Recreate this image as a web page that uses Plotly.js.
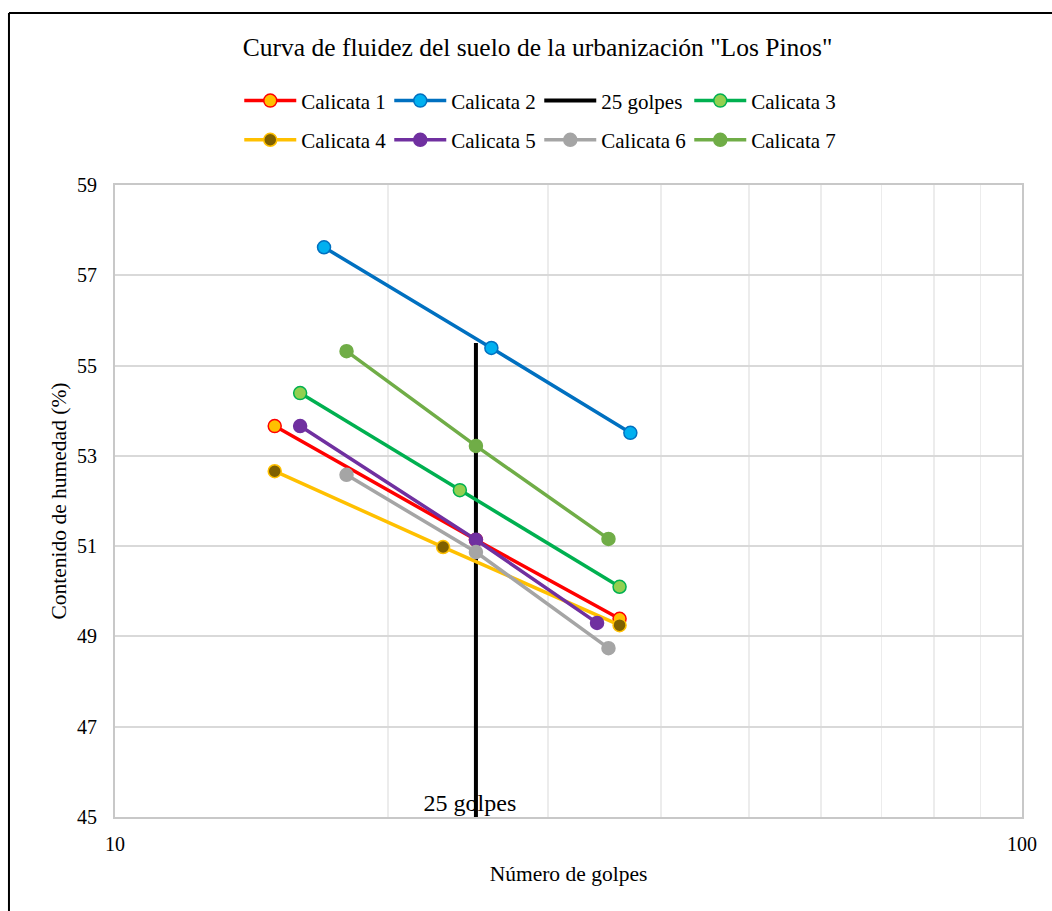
<!DOCTYPE html>
<html>
<head>
<meta charset="utf-8">
<script src="https://cdn.plot.ly/plotly-3.0.1.min.js"></script>
<style>
html,body{margin:0;padding:0;background:#fff;overflow:hidden;}
#chart{width:1052px;height:911px;}
</style>
</head>
<body>
<div id="chart"></div>
<script>
// Data
const golpes1 = [15, 25, 36];
const humedad1 = [53.66, 51.14, 49.39];
const golpes2 = [17, 26, 37];
const humedad2 = [57.62, 55.39, 53.51];
const golpes25X = [25, 25];
const golpes25Y = [45, 55.5];
const golpes3 = [16, 24, 36];
const humedad3 = [54.39, 52.24, 50.10];
const golpes4 = [15, 23, 36];
const humedad4 = [52.66, 50.98, 49.25];
const golpes5 = [16, 25, 34];
const humedad5 = [53.66, 51.14, 49.30];
const golpes6 = [18, 25, 35];
const humedad6 = [52.58, 50.87, 48.74];
const golpes7 = [18, 25, 35];
const humedad7 = [55.32, 53.22, 51.16];
const xTickVals = [10, 20, 30, 40, 50, 60, 70, 80, 90, 100];
const xTickText = ['10', '', '', '', '', '', '', '', '', '100'];
const annotationText = '25 golpes\u00a0\u00a0';

const FONT = 'Liberation Serif, Times New Roman, serif';

function series(name, x, y, lineColor, fillColor, legend) {
  return {
    type: 'scatter', mode: 'lines+markers', name: name, x: x, y: y,
    line: {color: lineColor, width: 3.5},
    marker: {size: 13, color: fillColor, line: {color: lineColor, width: 1.5}},
    legend: legend, cliponaxis: false
  };
}

const traces = [
  {type: 'scatter', mode: 'text', x: [golpes25X[0]], y: [golpes25Y[0]], text: [annotationText],
   textposition: 'top center', textfont: {family: FONT, size: 24, color: '#000'},
   showlegend: false, hoverinfo: 'skip', cliponaxis: false},
  series('Calicata 1', golpes1, humedad1, '#ff0000', '#ffc000', 'legend'),
  series('Calicata 2', golpes2, humedad2, '#0070c0', '#00b0f0', 'legend'),
  {type: 'scatter', mode: 'lines', name: '25 golpes', x: golpes25X, y: golpes25Y,
   line: {color: '#000000', width: 4}, legend: 'legend'},
  series('Calicata 3', golpes3, humedad3, '#00b050', '#92d050', 'legend'),
  series('Calicata 4', golpes4, humedad4, '#ffc000', '#7f6000', 'legend2'),
  series('Calicata 5', golpes5, humedad5, '#7030a0', '#7030a0', 'legend2'),
  series('Calicata 6', golpes6, humedad6, '#a5a5a5', '#a5a5a5', 'legend2'),
  series('Calicata 7', golpes7, humedad7, '#70ad47', '#70ad47', 'legend2')
];

function makeLegend(y) {
  return {
    orientation: 'h', itemwidth: 52, entrywidth: 83, entrywidthmode: 'pixels',
    font: {family: FONT, size: 21, color: '#000'}, bgcolor: 'rgba(0,0,0,0)',
    x: 0.137, y: y, xanchor: 'left', yanchor: 'middle'
  };
}

const layout = {
  width: 1052, height: 911,
  margin: {l: 115, r: 30, t: 185, b: 94},
  paper_bgcolor: '#ffffff', plot_bgcolor: '#ffffff',
  font: {family: FONT, size: 20, color: '#000'},
  title: {text: 'Curva de fluidez del suelo de la urbanización "Los Pinos"',
          font: {family: FONT, size: 25.5, color: '#000'},
          x: 0.511, xref: 'container', y: 0.948, yref: 'container', xanchor: 'center', yanchor: 'middle'},
  showlegend: true,
  legend: makeLegend(1.133),
  legend2: makeLegend(1.071),
  xaxis: {
    type: 'log', range: [1, 2], tickmode: 'array', tickvals: xTickVals, ticktext: xTickText,
    showgrid: true, gridcolor: '#ececec', gridwidth: 1.5,
    showline: true, linecolor: '#c8c8c8', linewidth: 2, mirror: true,
    ticks: '', ticklabelstandoff: 8, zeroline: false,
    tickfont: {family: FONT, size: 20, color: '#000'},
    title: {text: 'Número de golpes', font: {family: FONT, size: 21.5, color: '#000'}, standoff: 12}
  },
  yaxis: {
    range: [45, 59], dtick: 2, tick0: 45,
    showgrid: true, gridcolor: '#d9d9d9', gridwidth: 2,
    showline: true, linecolor: '#c8c8c8', linewidth: 2, mirror: true,
    ticks: '', ticklabelstandoff: 12, zeroline: false,
    tickfont: {family: FONT, size: 20, color: '#000'},
    title: {text: 'Contenido de humedad (%)', font: {family: FONT, size: 21.5, color: '#000'}, standoff: 4}
  },
  shapes: [
    {type: 'line', xref: 'paper', yref: 'paper', x0: -0.1169, x1: -0.1169, y0: 1.2722, y1: -0.3,
     line: {color: '#000', width: 2}},
    {type: 'line', xref: 'paper', yref: 'paper', x0: -0.1169, x1: 1.2, y0: 1.2722, y1: 1.2722,
     line: {color: '#000', width: 2}}
  ]
};

Plotly.newPlot('chart', traces, layout, {staticPlot: true, displayModeBar: false});
</script>
</body>
</html>
